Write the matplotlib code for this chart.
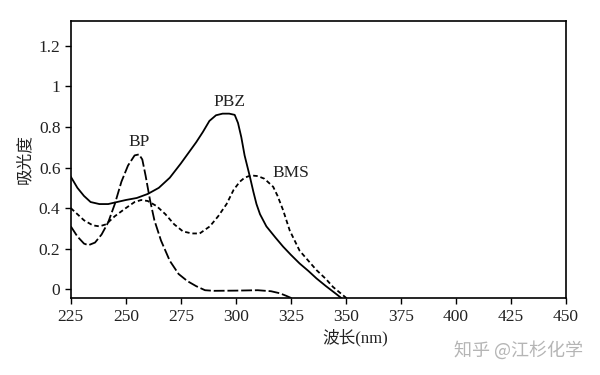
import matplotlib
matplotlib.use('Agg')
import matplotlib.pyplot as plt
from matplotlib.ticker import FuncFormatter

# wavelength (nm) / absorbance
pbz_x = [225, 228, 231, 234, 238, 242, 246, 250, 255, 260, 265, 270, 275, 279,
         282, 285, 288, 291, 294, 297, 299.5, 301, 302.5, 304, 306.4, 308, 309.4,
         311, 313.9, 318, 321.5, 325, 329, 333, 336.7, 341, 345.8, 348]
pbz_y = [0.555, 0.50, 0.46, 0.43, 0.42, 0.42, 0.43, 0.44, 0.45, 0.47, 0.50, 0.55,
         0.62, 0.68, 0.725, 0.775, 0.83, 0.858, 0.866, 0.866, 0.86, 0.82, 0.75,
         0.66, 0.555, 0.48, 0.42, 0.37, 0.31, 0.255, 0.21, 0.17, 0.127, 0.09,
         0.053, 0.015, -0.025, -0.044]

bms_x = [225, 228, 231, 235, 238, 241, 245, 250, 254, 257, 260, 264, 268, 272,
         276, 280, 283.6, 288.2, 292, 295.8, 299, 301.8, 304, 306, 308, 310, 313,
         317, 319, 321.5, 324.5, 329, 333, 336.7, 341, 344.2, 350.3]
bms_y = [0.40, 0.37, 0.34, 0.315, 0.31, 0.32, 0.36, 0.40, 0.43, 0.44, 0.435, 0.41,
         0.37, 0.32, 0.285, 0.275, 0.275, 0.31, 0.36, 0.42, 0.49, 0.53, 0.55, 0.558,
         0.56, 0.558, 0.545, 0.505, 0.46, 0.39, 0.29, 0.19, 0.14, 0.094, 0.05,
         0.011, -0.044]

bp_x = [225, 228, 231, 233, 236, 239, 242, 245, 248, 251, 254, 256, 257.5, 259,
        261, 263, 266, 270, 274, 278, 282, 286, 290, 300, 310, 316, 320, 323, 325.3]
bp_y = [0.31, 0.26, 0.225, 0.217, 0.23, 0.27, 0.33, 0.42, 0.53, 0.61, 0.66, 0.665,
        0.64, 0.56, 0.44, 0.34, 0.24, 0.14, 0.075, 0.04, 0.015, -0.005, -0.008,
        -0.007, -0.005, -0.01, -0.02, -0.033, -0.044]

xticks = [225, 250, 275, 300, 325, 350, 375, 400, 425, 450]
yticks = [0, 0.2, 0.4, 0.6, 0.8, 1, 1.2]

plt.rcParams['font.family'] = ['Liberation Serif', 'Noto Sans CJK SC']
plt.rcParams['font.size'] = 12.5

fig = plt.figure(figsize=(6, 3.75), dpi=100)
ax = fig.add_axes([0.118, 0.205, 0.825, 0.739])

ax.plot(pbz_x, pbz_y, color='black', lw=1.3)
ax.plot(bms_x, bms_y, color='black', lw=1.3, dashes=(2.5, 1.6))
ax.plot(bp_x, bp_y, color='black', lw=1.3, dashes=(6, 1.6))

ax.text(297, 0.925, 'PBZ', ha='center', va='center', color='#222222')
ax.text(256, 0.725, 'BP', ha='center', va='center', color='#222222')
ax.text(325, 0.573, 'BMS', ha='center', va='center', color='#222222')

ax.set_xlim(225, 450)
ax.set_ylim(-0.044, 1.323)
ax.set_xticks(xticks)
ax.set_yticks(yticks)
ax.yaxis.set_major_formatter(FuncFormatter(lambda v, p: '%g' % v))
ax.tick_params(direction='out', length=4, width=1, labelcolor='#222222')
for s in ax.spines.values():
    s.set_linewidth(1.2)

ax.set_xlabel('波长(nm)', fontsize=12, color='#222222')
ax.xaxis.set_label_coords(0.574, -0.11)
ax.set_ylabel('吸光度', fontsize=12, color='#222222')

fig.text(0.865, 0.065, '知乎 @江杉化学', color='#b5b5b5', fontsize=13,
         ha='center', va='center', family=['Noto Sans CJK SC', 'DejaVu Sans'])

plt.savefig('out.png')
